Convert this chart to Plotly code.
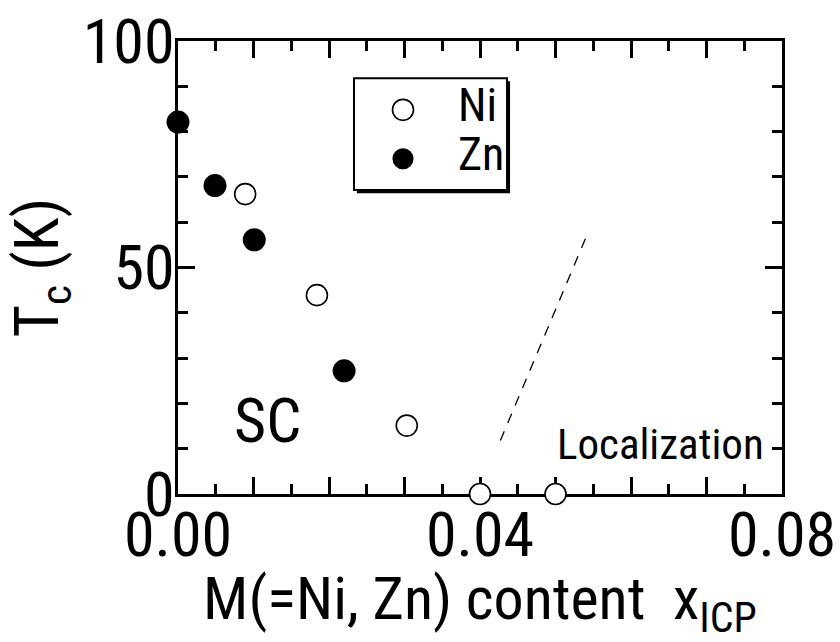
import plotly.graph_objects as go

# ---- data ----
ni_x = [0.0089, 0.0184, 0.0303, 0.0400, 0.0500]
ni_tc = [66.2, 43.9, 15.1, 0.0, 0.0]
zn_x = [0.0000, 0.0049, 0.0101, 0.0220]
zn_tc = [82.1, 68.1, 56.1, 27.2]
loc_x = [0.0427, 0.0543]
loc_tc = [11.8, 57.7]

x_major = [0, 0.01, 0.02, 0.03, 0.04, 0.05, 0.06, 0.07, 0.08]
x_labels = ["0.00", "", "", "", "0.04", "", "", "", "0.08"]
y_major = [0, 50, 100]
y_labels = ["0", "50", "100"]

FONT = "Roboto Condensed"

fig = go.Figure()
fig.add_trace(go.Scatter(x=loc_x, y=loc_tc, mode="lines",
                         line=dict(color="black", width=1.3, dash="10px,9px"),
                         showlegend=False, hoverinfo="skip"))
fig.add_trace(go.Scatter(x=ni_x, y=ni_tc, mode="markers", name="Ni",
                         marker=dict(size=21, color="white", line=dict(color="black", width=1.6)),
                         cliponaxis=False, showlegend=False))
fig.add_trace(go.Scatter(x=zn_x, y=zn_tc, mode="markers", name="Zn",
                         marker=dict(size=23, color="black", line=dict(color="black", width=0)),
                         cliponaxis=False, showlegend=False))

# manual legend box with drop shadow
bx0, bx1, by0, by1 = 0.02331, 0.04358, 67.1, 91.8
fig.add_shape(type="rect", xref="x", yref="y", x0=bx0 + 0.0004, x1=bx1 + 0.0004,
              y0=by0 - 0.7, y1=by1 - 0.7, fillcolor="black", line=dict(width=0), layer="above")
fig.add_shape(type="rect", xref="x", yref="y", x0=bx0, x1=bx1, y0=by0, y1=by1,
              fillcolor="white", line=dict(color="black", width=2), layer="above")
for yy, fill, lw in [(84.8, "white", 1.6), (74.0, "black", 0.1)]:
    fig.add_shape(type="circle", xref="x", yref="y", xsizemode="pixel", ysizemode="pixel",
                  xanchor=0.0298, yanchor=yy, x0=-10.5, x1=10.5, y0=-10.5, y1=10.5,
                  fillcolor=fill, line=dict(color="black", width=lw), layer="above")

fig.add_annotation(x=0.0368, y=85.9, xref="x", yref="y", text="Ni", showarrow=False,
                   xanchor="left", yanchor="middle", font=dict(size=46, family=FONT, color="black"))
fig.add_annotation(x=0.0368, y=75.1, xref="x", yref="y", text="Zn", showarrow=False,
                   xanchor="left", yanchor="middle", font=dict(size=46, family=FONT, color="black"))
fig.add_annotation(x=0.0119, y=16.3, xref="x", yref="y", text="SC", showarrow=False,
                   xanchor="center", yanchor="middle", font=dict(size=62, family=FONT, color="black"))
fig.add_annotation(x=0.0779, y=11.0, xref="x", yref="y", text="Localization", showarrow=False,
                   xanchor="right", yanchor="middle", font=dict(size=43, family=FONT, color="black"))

axis_common = dict(showline=True, linecolor="black", linewidth=3, mirror="allticks",
                   ticks="inside", tickcolor="black", tickwidth=2.5, showgrid=False,
                   zeroline=False, layer="below traces", ticklabeloverflow="allow",
                   automargin=False)

fig.update_xaxes(range=[0, 0.08], tickmode="array", tickvals=x_major, ticktext=x_labels,
                 ticklen=17, tickfont=dict(size=62, family=FONT, color="black"),
                 ticklabelstandoff=-15,
                 minor=dict(dtick=0.005, tick0=0, ticklen=10, tickwidth=2.5, tickcolor="black",
                            ticks="inside", showgrid=False),
                 title=dict(text="M(=Ni, Zn) content&nbsp; x<sub>ICP</sub>",
                            font=dict(size=60, family=FONT, color="black"), standoff=4),
                 **axis_common)
fig.update_yaxes(range=[0, 100], tickmode="array", tickvals=y_major, ticktext=y_labels,
                 ticklen=17, tickfont=dict(size=62, family=FONT, color="black"),
                 ticklabelstandoff=-12,
                 minor=dict(dtick=10, tick0=0, ticklen=10, tickwidth=2.5, tickcolor="black",
                            ticks="inside", showgrid=False),
                 title=dict(text="T<sub>c</sub> (K)",
                            font=dict(size=62, family=FONT, color="black"), standoff=10),
                 **axis_common)

fig.update_layout(width=840, height=642, margin=dict(l=178, r=58, t=41, b=148),
                  paper_bgcolor="white", plot_bgcolor="white", showlegend=False)

fig.write_html("out.html")
